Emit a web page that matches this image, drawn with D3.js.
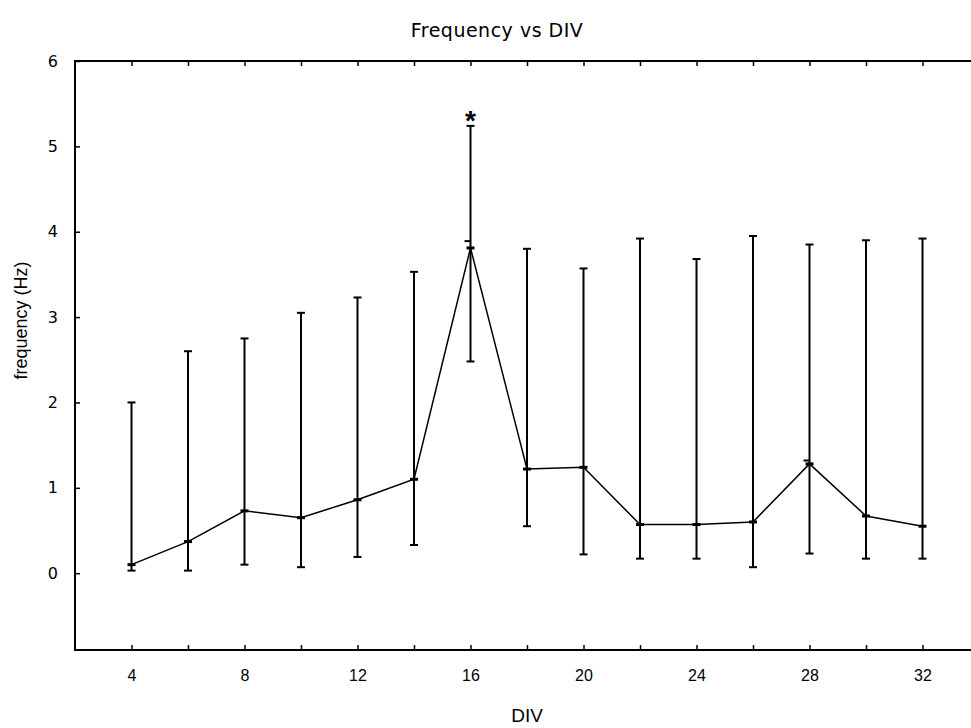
<!DOCTYPE html>
<html>
<head>
<meta charset="utf-8">
<script src="https://cdn.jsdelivr.net/npm/d3@7"></script>
<style>
  html, body { margin: 0; padding: 0; background: #fff; }
  svg { display: block; }
  text { font-family: "Liberation Sans", Arial, sans-serif; fill: #000; }
</style>
</head>
<body>
<svg id="chart" width="971" height="728"></svg>
<script>
// ---- data ----
const div      = [4, 6, 8, 10, 12, 14, 16, 18, 20, 22, 24, 26, 28, 30, 32];
const meanFreq = [0.10, 0.37, 0.73, 0.65, 0.86, 1.10, 3.81, 1.22, 1.24, 0.57, 0.57, 0.60, 1.28, 0.67, 0.55];
const upperBar = [2.00, 2.60, 2.75, 3.05, 3.23, 3.53, 5.24, 3.80, 3.57, 3.92, 3.68, 3.95, 3.85, 3.90, 3.92];
const lowerBar = [0.03, 0.03, 0.10, 0.07, 0.19, 0.33, 2.48, 0.55, 0.22, 0.17, 0.17, 0.07, 0.23, 0.17, 0.17];
const markDiv  = [16];          // significance marker
const markText = ["*"];
const extraDiv = [16, 28];      // small dashes drawn by the original software
const extraVal = [3.89, 1.32];
const xTickVals  = [4, 6, 8, 10, 12, 14, 16, 18, 20, 22, 24, 26, 28, 30, 32];
const xLabelVals = [4, 8, 12, 16, 20, 24, 28, 32];
const yTickVals  = [0, 1, 2, 3, 4, 5, 6];
const titleText = "Frequency vs DIV";
const xTitle = "DIV";
const yTitle = "frequency (Hz)";

// ---- layout ----
const svg = d3.select("#chart");
const L = 75, T = 61, B = 650, R = 979;
const x = d3.scaleLinear().domain([2, 34]).range([L, R]);
const y = d3.scaleLinear().domain([-0.9, 6]).range([B, T]);

// frame
svg.append("rect")
  .attr("x", L).attr("y", T).attr("width", R - L).attr("height", B - T)
  .attr("fill", "none").attr("stroke", "#000").attr("stroke-width", 2);

// bottom axis (inward ticks)
const xAxisB = d3.axisBottom(x).tickValues(xTickVals).tickSize(-5).tickSizeOuter(0)
  .tickPadding(20)
  .tickFormat(d => xLabelVals.includes(d) ? d3.format("d")(d) : "");
const gB = svg.append("g").attr("transform", `translate(0,${B})`).call(xAxisB);
gB.select(".domain").remove();
gB.selectAll(".tick line").attr("stroke", "#000").attr("stroke-width", 1.5);
gB.selectAll(".tick text").style("font-size", "16px")
  .style("font-family", "'Liberation Sans', Arial, sans-serif")
  .attr("fill", "#000");

// top axis (inward ticks, no labels)
const xAxisT = d3.axisTop(x).tickValues(xTickVals).tickSize(-5).tickSizeOuter(0).tickFormat("");
const gT = svg.append("g").attr("transform", `translate(0,${T})`).call(xAxisT);
gT.select(".domain").remove();
gT.selectAll(".tick line").attr("stroke", "#000").attr("stroke-width", 1.5);

// left axis (inward ticks)
const yAxisL = d3.axisLeft(y).tickValues(yTickVals).tickSize(-5).tickSizeOuter(0)
  .tickPadding(17).tickFormat(d3.format("d"));
const gL = svg.append("g").attr("transform", `translate(${L},0)`).call(yAxisL);
gL.select(".domain").remove();
gL.selectAll(".tick line").attr("stroke", "#000").attr("stroke-width", 1.5);
gL.selectAll(".tick text").style("font-size", "16px")
  .style("font-family", "'DejaVu Sans', 'Liberation Sans', sans-serif")
  .attr("fill", "#000");

// error bars
const pts = div.map((d, i) => ({ d, m: meanFreq[i], hi: upperBar[i], lo: lowerBar[i] }));
const eb = svg.append("g");
eb.selectAll("line.v").data(pts).join("line")
  .attr("x1", p => x(p.d)).attr("x2", p => x(p.d))
  .attr("y1", p => y(p.hi)).attr("y2", p => y(p.lo))
  .attr("stroke", "#000").attr("stroke-width", 2);
eb.selectAll("line.top").data(pts).join("line")
  .attr("x1", p => x(p.d) - 4).attr("x2", p => x(p.d) + 4)
  .attr("y1", p => y(p.hi)).attr("y2", p => y(p.hi))
  .attr("stroke", "#000").attr("stroke-width", 2);
eb.selectAll("line.bot").data(pts).join("line")
  .attr("x1", p => x(p.d) - 4).attr("x2", p => x(p.d) + 4)
  .attr("y1", p => y(p.lo)).attr("y2", p => y(p.lo))
  .attr("stroke", "#000").attr("stroke-width", 2);

// mean line
const line = d3.line().x(p => x(p.d)).y(p => y(p.m));
svg.append("path").datum(pts).attr("d", line)
  .attr("fill", "none").attr("stroke", "#000").attr("stroke-width", 1.5);

// mean markers
svg.append("g").selectAll("rect").data(pts).join("rect")
  .attr("x", p => x(p.d) - 4).attr("y", p => y(p.m) - 1.5)
  .attr("width", 8).attr("height", 3).attr("fill", "#000");

// extra dashes
svg.append("g").selectAll("line").data(extraDiv.map((d, i) => ({ d, v: extraVal[i] }))).join("line")
  .attr("x1", p => x(p.d) - 6).attr("x2", p => x(p.d))
  .attr("y1", p => y(p.v)).attr("y2", p => y(p.v))
  .attr("stroke", "#000").attr("stroke-width", 2);

// significance marker
svg.append("g").selectAll("text").data(markDiv.map((d, i) => ({ d, t: markText[i], hi: upperBar[div.indexOf(d)] }))).join("text")
  .attr("x", p => x(p.d)).attr("y", p => y(p.hi) + 4)
  .attr("text-anchor", "middle").style("font-size", "28px").style("font-weight", "bold")
  .text(p => p.t);

// titles
svg.append("text").attr("x", 497).attr("y", 37).attr("text-anchor", "middle")
  .style("font-size", "19px").style("font-family", "'DejaVu Sans', sans-serif")
  .style("letter-spacing", "0.5px")
  .text(titleText);
svg.append("text").attr("x", 527).attr("y", 722).attr("text-anchor", "middle")
  .style("font-size", "19px")
  .text(xTitle);
svg.append("text").attr("transform", `translate(27,${(T + B) / 2 - 35}) rotate(-90)`)
  .attr("text-anchor", "middle").style("font-size", "18px").text(yTitle);
</script>
</body>
</html>
